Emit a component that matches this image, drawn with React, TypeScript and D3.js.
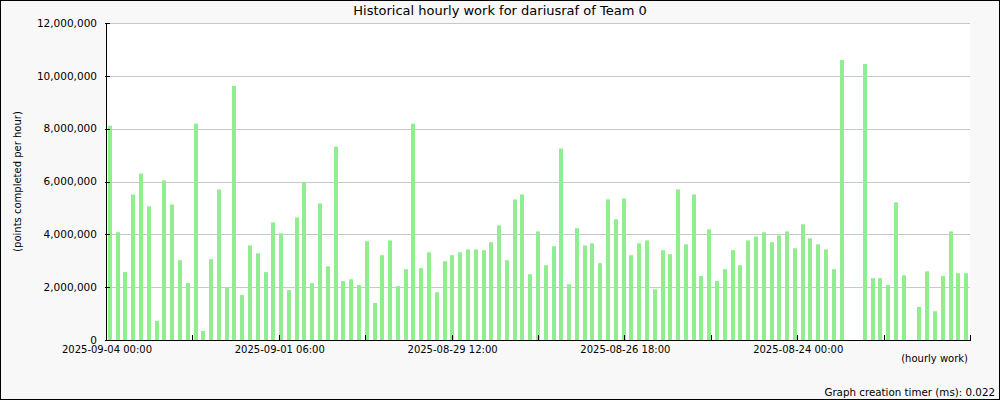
import React, { useEffect, useRef } from "react";
import * as d3 from "d3";

const title = "Historical hourly work for dariusraf of Team 0";
const yLabel = "(points completed per hour)";
const xLabel = "(hourly work)";
const footer = "Graph creation timer (ms): 0.022";

// hourly points (null = no bar drawn)
const hourlyPoints: (number | null)[] = [
  8110000, 4080000, 2570000, 5510000, 6300000, 5060000, 720000, 6040000, 5130000, 3020000,
  2150000, 8190000, 340000, 3060000, 5700000, 1990000, 9620000, 1700000, 3580000, 3280000,
  2570000, 4450000, 4040000, 1890000, 4640000, 5960000, 2150000, 5170000, 2790000, 7320000,
  2230000, 2300000, 2080000, 3740000, 1400000, 3210000, 3770000, 2040000, 2680000, 8190000,
  2720000, 3320000, 1810000, 2980000, 3210000, 3320000, 3430000, 3430000, 3400000, 3700000,
  4340000, 3020000, 5320000, 5510000, 2490000, 4110000, 2830000, 3550000, 7250000, 2110000,
  4230000, 3580000, 3660000, 2910000, 5320000, 4570000, 5360000, 3210000, 3660000, 3770000,
  1920000, 3400000, 3250000, 5700000, 3620000, 5510000, 2420000, 4190000, 2230000, 2680000,
  3400000, 2830000, 3770000, 3920000, 4080000, 3700000, 3960000, 4110000, 3470000, 4380000,
  3850000, 3620000, 3430000, 2680000, 10600000, null, null, 10450000, 2340000, 2340000,
  2080000, 5210000, 2450000, null, 1250000, 2600000, 1090000, 2420000, 4110000, 2530000,
  2530000,
];

const yTicks = [0, 2000000, 4000000, 6000000, 8000000, 10000000, 12000000];
const xTickCount = 10;
const xTickLabels = [
  "2025-09-04 00:00",
  "",
  "2025-09-01 06:00",
  "",
  "2025-08-29 12:00",
  "",
  "2025-08-26 18:00",
  "",
  "2025-08-24 00:00",
  "",
  "",
];

const W = 1000;
const H = 400;
const plot = { left: 106, right: 970, top: 23, bottom: 340 };
const FONT = "DejaVu Sans, sans-serif";

export default function App() {
  const ref = useRef<SVGSVGElement>(null);

  useEffect(() => {
    document.body.style.margin = "0";
    const svg = d3.select(ref.current);
    svg.selectAll("*").remove();

    svg
      .append("rect")
      .attr("x", 0.5)
      .attr("y", 0.5)
      .attr("width", W - 1)
      .attr("height", H - 1)
      .attr("fill", "#f8f8f8")
      .attr("stroke", "#000")
      .attr("stroke-width", 1);

    svg
      .append("rect")
      .attr("x", plot.left)
      .attr("y", plot.top)
      .attr("width", plot.right - plot.left)
      .attr("height", plot.bottom - plot.top)
      .attr("fill", "#fff");

    const y = d3.scaleLinear().domain([0, 12000000]).range([plot.bottom, plot.top]);
    const xb = d3
      .scaleBand<number>()
      .domain(hourlyPoints.map((_, i) => i))
      .range([plot.left, plot.right])
      .paddingInner(0);
    const xt = d3.scaleLinear().domain([0, xTickCount]).range([plot.left, plot.right]);

    // grid
    svg
      .append("g")
      .selectAll("line")
      .data(yTicks.filter((t) => t > 0))
      .join("line")
      .attr("x1", plot.left)
      .attr("x2", plot.right)
      .attr("y1", (d) => Math.round(y(d)) + 0.5)
      .attr("y2", (d) => Math.round(y(d)) + 0.5)
      .attr("stroke", "#c8c8c8")
      .attr("stroke-width", 1);

    // bars
    const bw = 4;
    svg
      .append("g")
      .selectAll("rect")
      .data(hourlyPoints.map((v, i) => ({ v, i })).filter((d) => d.v !== null))
      .join("rect")
      .attr("x", (d) => Math.round(xb(d.i)! + xb.bandwidth() / 2 - bw / 2))
      .attr("width", bw)
      .attr("y", (d) => y(d.v as number))
      .attr("height", (d) => plot.bottom - y(d.v as number))
      .attr("fill", "#90ee90");

    // axes
    svg
      .append("line")
      .attr("x1", plot.left + 0.5)
      .attr("x2", plot.left + 0.5)
      .attr("y1", plot.top)
      .attr("y2", plot.bottom + 1)
      .attr("stroke", "#000");
    svg
      .append("line")
      .attr("x1", plot.left)
      .attr("x2", plot.right + 1)
      .attr("y1", plot.bottom + 0.5)
      .attr("y2", plot.bottom + 0.5)
      .attr("stroke", "#000");

    // y ticks
    const yg = svg.append("g");
    yg.selectAll("line")
      .data(yTicks)
      .join("line")
      .attr("x1", plot.left - 1)
      .attr("x2", plot.left + 4)
      .attr("y1", (d) => Math.round(y(d)) + 0.5)
      .attr("y2", (d) => Math.round(y(d)) + 0.5)
      .attr("stroke", "#000");
    yg.selectAll("text")
      .data(yTicks)
      .join("text")
      .attr("x", 97)
      .attr("y", (d) => y(d))
      .attr("dy", "0.35em")
      .attr("text-anchor", "end")
      .attr("font-family", FONT)
      .attr("font-size", 10.5)
      .attr("fill", "#000")
      .text((d) => d3.format(",")(d));

    // x ticks
    const ticksIdx = d3.range(0, xTickCount + 1);
    const xg = svg.append("g");
    xg.selectAll("line")
      .data(ticksIdx)
      .join("line")
      .attr("x1", (d) => Math.round(xt(d)) + 0.5)
      .attr("x2", (d) => Math.round(xt(d)) + 0.5)
      .attr("y1", plot.bottom - 5)
      .attr("y2", plot.bottom + 1)
      .attr("stroke", "#000");
    xg.selectAll("text")
      .data(ticksIdx.filter((d) => xTickLabels[d]))
      .join("text")
      .attr("x", (d) => xt(d) + 1)
      .attr("y", 353)
      .attr("text-anchor", "middle")
      .attr("font-family", FONT)
      .attr("font-size", 10)
      .attr("fill", "#000")
      .text((d) => xTickLabels[d]);

    svg
      .append("text")
      .attr("x", 500)
      .attr("y", 15)
      .attr("text-anchor", "middle")
      .attr("font-family", FONT)
      .attr("font-size", 13)
      .attr("fill", "#000")
      .text(title);

    svg
      .append("text")
      .attr("transform", `translate(21, ${(plot.top + plot.bottom) / 2}) rotate(-90)`)
      .attr("text-anchor", "middle")
      .attr("font-family", FONT)
      .attr("font-size", 10)
      .attr("fill", "#000")
      .text(yLabel);

    svg
      .append("text")
      .attr("x", 968)
      .attr("y", 362)
      .attr("text-anchor", "end")
      .attr("font-family", FONT)
      .attr("font-size", 10)
      .attr("fill", "#000")
      .text(xLabel);

    svg
      .append("text")
      .attr("x", 995)
      .attr("y", 396)
      .attr("text-anchor", "end")
      .attr("font-family", FONT)
      .attr("font-size", 10.3)
      .attr("fill", "#000")
      .text(footer);
  }, []);

  return <svg ref={ref} width={W} height={H} style={{ display: "block" }} />;
}
